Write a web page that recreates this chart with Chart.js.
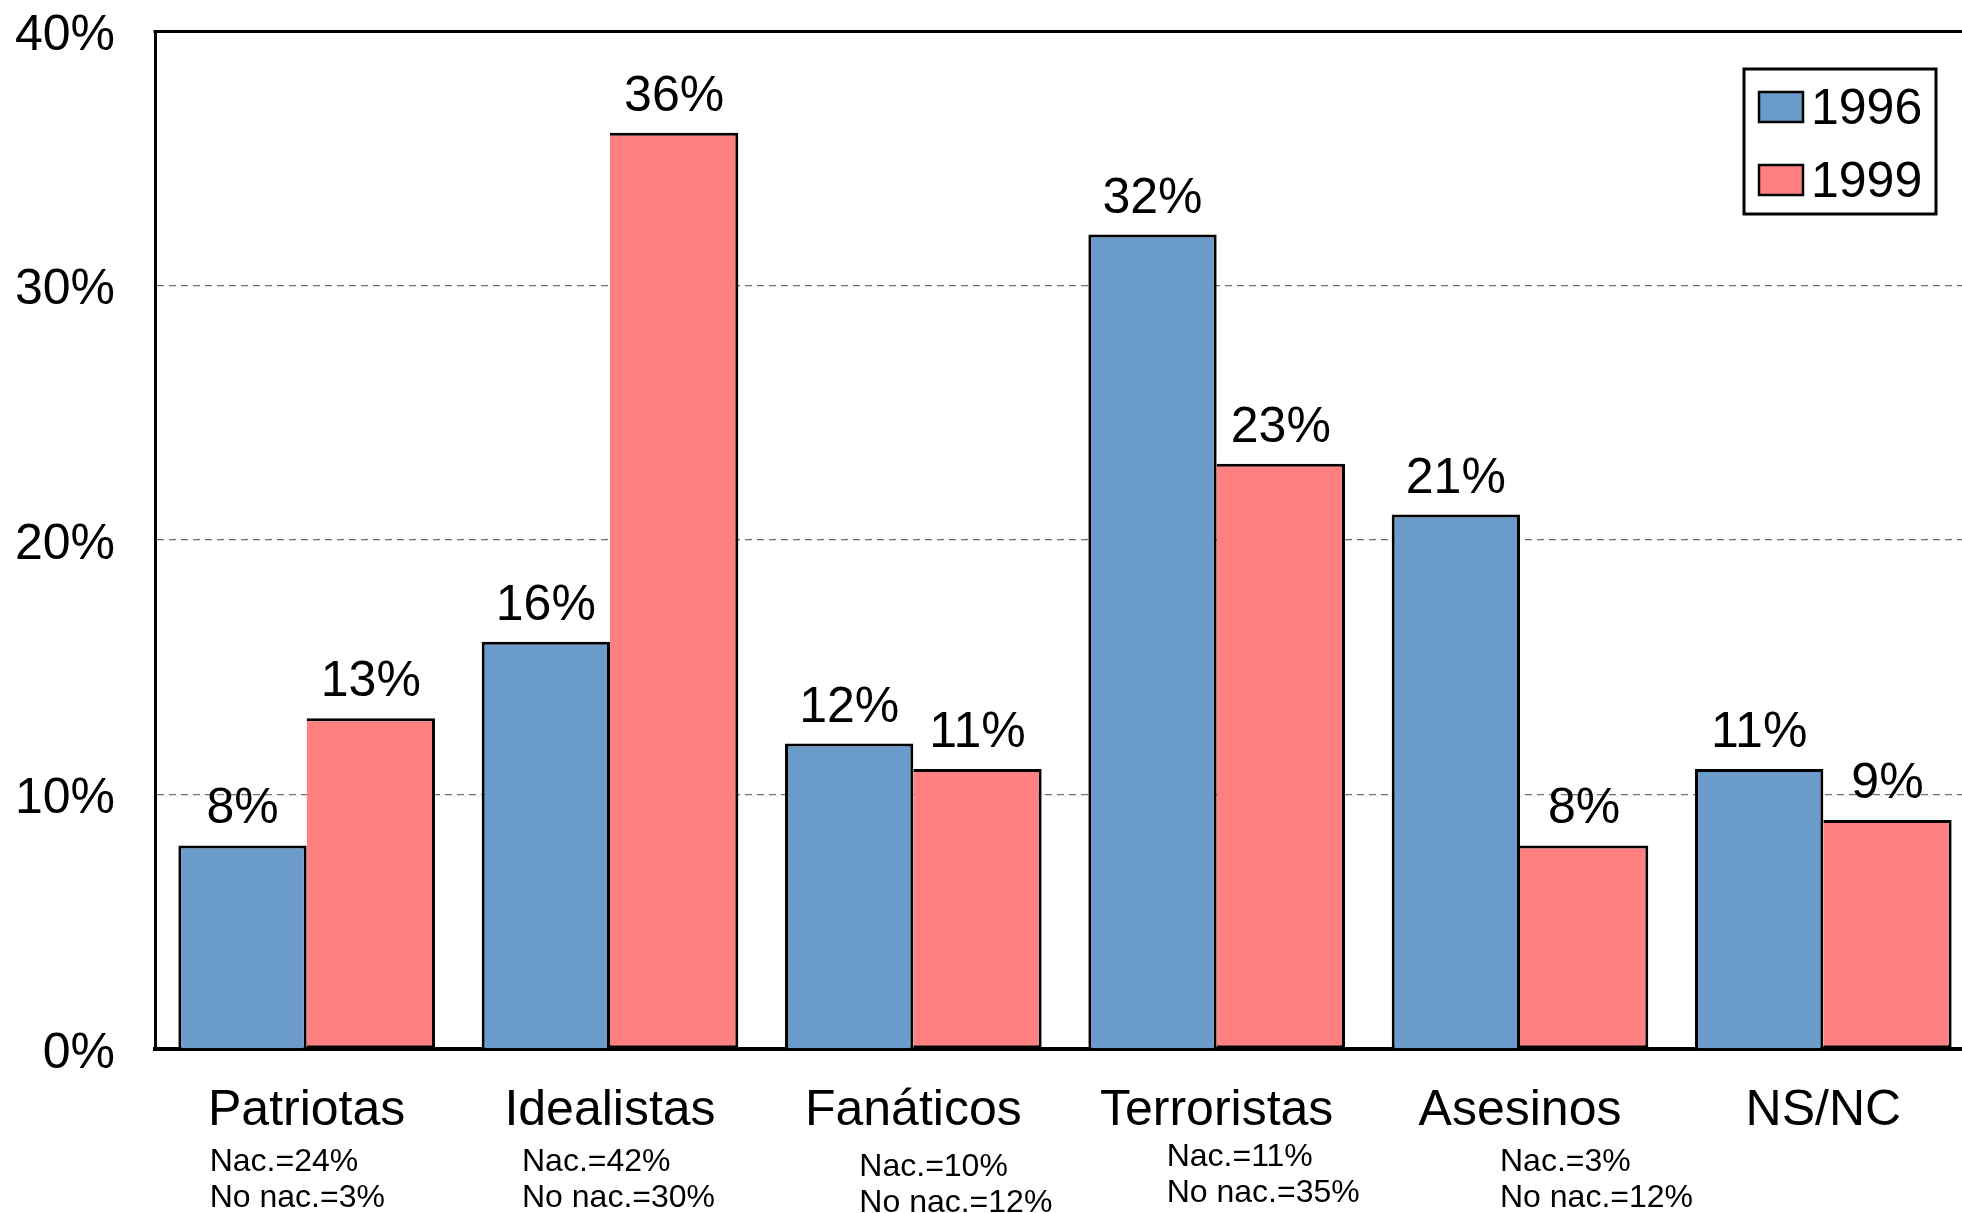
<!DOCTYPE html>
<html>
<head>
<meta charset="utf-8">
<script src="https://cdn.jsdelivr.net/npm/chart.js@4/dist/chart.umd.min.js"></script>
<style>
html,body{margin:0;padding:0;background:#fff;overflow:hidden;width:1962px;height:1213px;}
#wrap{width:1975px;height:1213px;position:relative;}
</style>
</head>
<body>
<div id="wrap"><canvas id="c"></canvas></div>
<script>
const categories = ['Patriotas','Idealistas','Fanáticos','Terroristas','Asesinos','NS/NC'];
const values1996 = [8,16,12,32,21,11];
const values1999 = [13,36,11,23,8,9];
const nacLabels = ['Nac.=24%','Nac.=42%','Nac.=10%','Nac.=11%','Nac.=3%',''];
const noNacLabels = ['No nac.=3%','No nac.=30%','No nac.=12%','No nac.=35%','No nac.=12%',''];
const seriesNames = ['1996','1999'];
const yTicks = [0,10,20,30,40];

const FONT = "'Liberation Sans', Arial, sans-serif";
const BLUE = '#6a9bcb';
const RED = '#ff8080';

// layout offsets for the sub-labels (x relative to category centre, y relative to axis)
const subLayout = [
  {dx:-97, dy:113}, {dx:-88, dy:113}, {dx:-54, dy:118},
  {dx:-50, dy:108}, {dx:-20, dy:113}, {dx:0, dy:113}
];

const extras = {
  id:'extras',
  afterDatasetsDraw(chart){
    const ctx = chart.ctx;
    ctx.save();
    ctx.fillStyle = '#000';
    ctx.font = '50px ' + FONT;
    ctx.textAlign = 'center';
    ctx.textBaseline = 'alphabetic';
    chart.data.datasets.forEach((ds, di) => {
      const meta = chart.getDatasetMeta(di);
      meta.data.forEach((el, i) => {
        ctx.fillText(ds.data[i] + '%', el.x, el.y - 22);
      });
    });
    ctx.restore();
  },
  afterDraw(chart){
    const ctx = chart.ctx;
    const ca = chart.chartArea;
    const xs = chart.scales.x;
    ctx.save();
    // top border
    ctx.strokeStyle = '#000';
    ctx.lineWidth = 3;
    ctx.beginPath();
    ctx.moveTo(ca.left - 1.5, ca.top + 0.5);
    ctx.lineTo(ca.right, ca.top + 0.5);
    ctx.stroke();
    // sub labels
    ctx.fillStyle = '#000';
    ctx.font = '32px ' + FONT;
    ctx.textAlign = 'left';
    ctx.textBaseline = 'middle';
    categories.forEach((c, i) => {
      const x = xs.getPixelForValue(i) + subLayout[i].dx;
      const y = ca.bottom + subLayout[i].dy;
      if (nacLabels[i]) ctx.fillText(nacLabels[i], x, y);
      if (noNacLabels[i]) ctx.fillText(noNacLabels[i], x, y + 36);
    });
    // legend
    const bx = 1744, by = ca.top + 38, bw = 192, bh = 145;
    ctx.fillStyle = '#fff';
    ctx.fillRect(bx, by, bw, bh);
    ctx.lineWidth = 3;
    ctx.strokeStyle = '#000';
    ctx.strokeRect(bx, by, bw, bh);
    ctx.font = '50px ' + FONT;
    ctx.textBaseline = 'middle';
    chart.data.datasets.forEach((ds, di) => {
      const cy = by + 38 + di * 73;
      ctx.fillStyle = ds.backgroundColor;
      ctx.fillRect(bx + 15, cy - 15, 44, 30);
      ctx.lineWidth = 2.5;
      ctx.strokeRect(bx + 15, cy - 15, 44, 30);
      ctx.fillStyle = '#000';
      ctx.fillText(ds.label, bx + 67, cy + 3);
    });
    ctx.restore();
  }
};

new Chart(document.getElementById('c'), {
  type: 'bar',
  data: {
    labels: categories,
    datasets: [
      {label: seriesNames[0], data: values1996, backgroundColor: BLUE, borderColor: '#000', borderWidth: 3, borderSkipped: 'bottom'},
      {label: seriesNames[1], data: values1999, backgroundColor: RED, borderColor: '#000', borderWidth: 3, borderSkipped: 'left'}
    ]
  },
  options: {
    responsive: true,
    maintainAspectRatio: false,
    animation: false,
    events: [],
    layout: {padding: {top: 31, right: 0, left: 0, bottom: 0}},
    datasets: {bar: {categoryPercentage: 0.846, barPercentage: 1.0}},
    plugins: {legend: {display: false}, tooltip: {enabled: false}},
    scales: {
      x: {
        grid: {display: false, drawTicks: false},
        border: {display: true, color: '#000', width: 4},
        ticks: {color: '#000', font: {family: FONT, size: 50}, padding: 32, maxRotation: 0, autoSkip: false},
        afterFit(s){ s.height = 164; s.paddingLeft = 0; s.paddingRight = 0; }
      },
      y: {
        min: 0, max: 40,
        afterBuildTicks(s){ s.ticks = yTicks.map(v => ({value: v})); },
        grid: {color: '#6e6e6e', lineWidth: 1.3, drawTicks: false},
        border: {display: true, color: '#000', width: 3, dash: [7,5]},
        ticks: {color: '#000', font: {family: FONT, size: 50}, padding: 40, labelOffset: 5, callback: v => v + '%'},
        afterFit(s){ s.width = 155; s.paddingTop = 0; s.paddingBottom = 0; }
      }
    }
  },
  plugins: [extras]
});
</script>
</body>
</html>
